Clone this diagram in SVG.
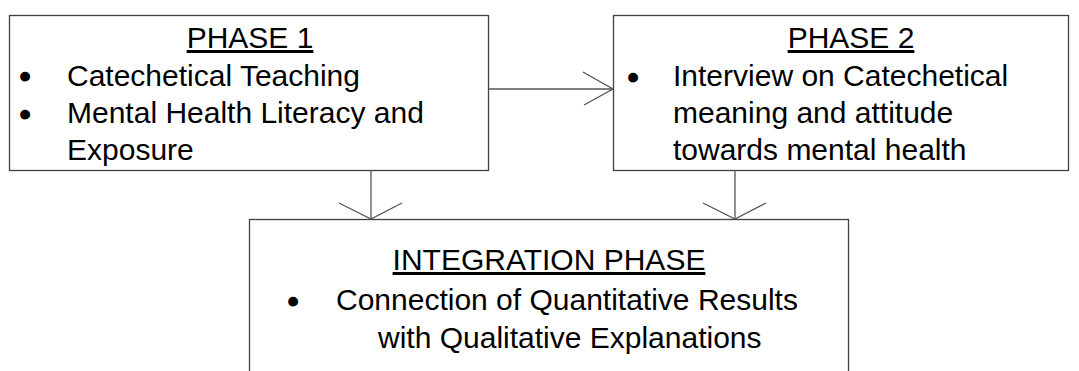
<svg xmlns="http://www.w3.org/2000/svg" width="1079" height="371" viewBox="0 0 1079 371">
  <style>
    .box { fill: #ffffff; stroke: #404040; stroke-width: 1.3; }
    .t { font-family: "Liberation Sans", Arial, sans-serif; font-size: 30px; fill: #000000; }
    .b { font-family: "Liberation Sans", Arial, sans-serif; font-size: 32px; fill: #000000; stroke: #000000; stroke-width: 1.2; }
    .title { text-anchor: middle; text-decoration: underline; }
    .conn { stroke: #555555; stroke-width: 1.3; fill: none; }
  </style>
  <defs>
    <marker id="vhead-h" markerUnits="userSpaceOnUse" viewBox="-33 -18 35 36" markerWidth="35" markerHeight="36" refX="0" refY="0" orient="auto">
      <path d="M -30,-17 L 0,0 L -29,16" fill="none" stroke="#555555" stroke-width="1.3"/>
    </marker>
    <marker id="vhead-v" markerUnits="userSpaceOnUse" viewBox="-18 -33 20 66" markerWidth="20" markerHeight="66" refX="0" refY="0" orient="auto">
      <path d="M -16,-31 L 0,0 L -16,32" fill="none" stroke="#555555" stroke-width="1.3"/>
    </marker>
  </defs>
  <rect width="1079" height="371" fill="#ffffff"/>

  <g id="phase1">
    <rect class="box" x="9.5" y="15.5" width="479" height="155"/>
    <text class="t title" x="250" y="48">PHASE 1</text>
    <text class="b" x="19.4" y="87">•</text>
    <text class="t" x="67" y="86">Catechetical Teaching</text>
    <text class="b" x="19.4" y="125">•</text>
    <text class="t" x="67" y="123">Mental Health Literacy and</text>
    <text class="t" x="67" y="160">Exposure</text>
  </g>

  <g id="phase2">
    <rect class="box" x="613.5" y="15.5" width="455" height="155"/>
    <text class="t title" x="851" y="48">PHASE 2</text>
    <text class="b" x="627.4" y="88">•</text>
    <text class="t" x="673" y="86">Interview on Catechetical</text>
    <text class="t" x="673" y="123">meaning and attitude</text>
    <text class="t" x="673" y="160">towards mental health</text>
  </g>

  <g id="integration">
    <rect class="box" x="249.5" y="219.5" width="599" height="170"/>
    <text class="t title" x="549" y="270">INTEGRATION PHASE</text>
    <text class="b" x="287.4" y="312">•</text>
    <text class="t" x="336" y="310">Connection of Quantitative Results</text>
    <text class="t" x="378" y="348">with Qualitative Explanations</text>
  </g>

  <g id="connectors">
    <line class="conn" x1="488.5" y1="89" x2="613" y2="89" marker-end="url(#vhead-h)"/>
    <line class="conn" x1="371" y1="170.5" x2="371" y2="219" marker-end="url(#vhead-v)"/>
    <line class="conn" x1="735" y1="170.5" x2="735" y2="219" marker-end="url(#vhead-v)"/>
  </g>
</svg>
